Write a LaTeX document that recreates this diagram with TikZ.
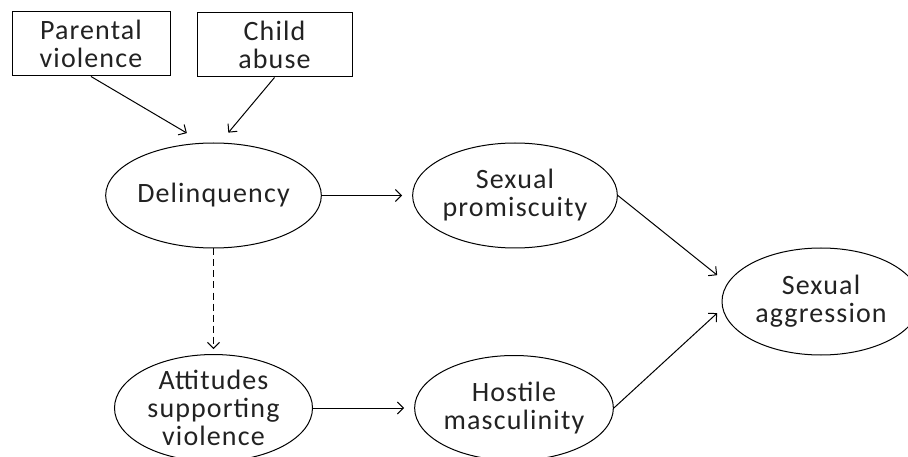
\documentclass[tikz,border=0pt]{standalone}
\usepackage{fontspec}
\setmainfont{Carlito}[LetterSpace=4]
\usepackage{tikz}
\usetikzlibrary{arrows.meta,positioning,shapes.geometric}
\usepackage{xcolor}
\definecolor{pathink}{HTML}{222222}
\tikzset{
  riskbox/.style={
    rectangle,
    draw=black,
    line width=1pt,
    align=center,
    minimum width=158pt,
    minimum height=64pt,
    inner sep=0pt,
    text=pathink,
    font=\fontsize{28}{28}\selectfont
  },
  riskfactor/.style={
    ellipse,
    draw=black,
    line width=1pt,
    align=center,
    minimum width=198pt,
    minimum height=105pt,
    inner sep=0pt,
    text=pathink,
    font=\fontsize{28}{28}\selectfont
  },
  pathway/.style={-{Straight Barb[length=6pt,width=12pt]}, line width=1pt, draw=black},
  pathdash/.style={pathway, dash pattern=on 7pt off 4pt}
}

\begin{document}
\begin{tikzpicture}[x=1pt,y=-1pt,on grid]
\useasboundingbox (0,0) rectangle (908,457);
\node[riskfactor] (delinq) at (213.5,195.5) {Delinquency};
\node[riskfactor, right=301.5pt of delinq] (promisc) {Sexual\\promiscuity};
\node[riskfactor, below=212.5pt of delinq] (attitude) {Attitudes\\supporting\\violence};
\node[riskfactor, right=300.5pt of attitude] (hostile) {Hostile\\masculinity};
\node[riskfactor, below right=106pt and 306pt of promisc, minimum height=107pt] (aggress) {Sexual\\aggression};
\node[riskbox, above left=151.5pt and 122.5pt of delinq] (parental) {Parental\\violence};
\node[riskbox, above right=150.5pt and 61pt of delinq, minimum width=155pt] (abuse) {Child\\abuse};
\draw[pathway, shorten >=19pt] (parental.south) -- (delinq.101);
\draw[pathway, shorten >=13pt] (abuse.south) -- (delinq.83);
\draw[pathway, shorten >=10pt] (delinq) -- (promisc);
\draw[pathdash, shorten >=5pt] (delinq.south) -- (attitude.north);
\draw[pathway, shorten >=10pt] (attitude) -- (hostile);
\draw[pathway, shorten >=13pt] (promisc.east) -- (aggress.169);
\draw[pathway, shorten >=7pt] (hostile.east) -- (aggress.184);
\end{tikzpicture}
\end{document}
